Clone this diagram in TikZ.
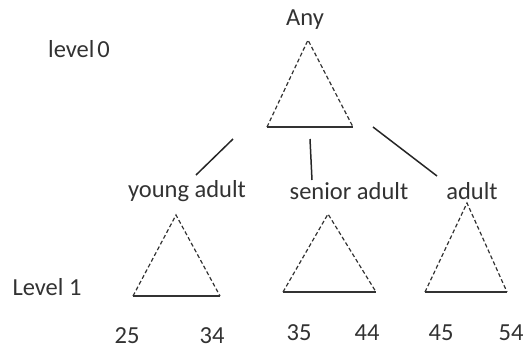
\documentclass[tikz,border=0pt]{standalone}
\usepackage{fontspec}
\setmainfont{Carlito}
\definecolor{ink}{RGB}{50, 50, 50}
\tikzstyle{lbl}=[inner sep=0pt,text=ink,font=\fontsize{24.5}{28}\selectfont]
\tikzstyle{trside}=[draw=ink,line width=1.2pt,dash pattern=on 4pt off 2.5pt]
\tikzstyle{trbase}=[draw=ink,line width=1.6pt]
\tikzstyle{conn}=[draw=black!85,line width=1.5pt]

\begin{document}
\begin{tikzpicture}[x=1pt,y=-1pt]
    \useasboundingbox (0,0) rectangle (524,349);
    % labels
    \node [style=lbl] (any) at (305, 20) {Any};
    \node [style=lbl] (lv0) at (79, 49) {level\hspace{0.12em}0};
    \node [style=lbl] (lv1) at (47, 287) {Level 1};
    \node [style=lbl] (ya) at (187, 191) {young adult};
    \node [style=lbl] (sa) at (349, 191) {senior adult};
    \node [style=lbl] (ad) at (472, 191) {adult};
    \node [style=lbl] (n25) at (127, 336) {25};
    \node [style=lbl] (n34) at (212, 336) {34};
    \node [style=lbl] (n35) at (299, 333) {35};
    \node [style=lbl] (n44) at (367, 333) {44};
    \node [style=lbl] (n45) at (441, 333) {45};
    \node [style=lbl] (n54) at (511, 333) {54};
    % triangles
    \coordinate (t0) at (308, 40);
    \coordinate (t0l) at (267, 127);
    \coordinate (t0r) at (353, 127);
    \coordinate (t1) at (176, 215);
    \coordinate (t1l) at (133, 296);
    \coordinate (t1r) at (220, 296);
    \coordinate (t2) at (328, 214);
    \coordinate (t2l) at (283, 292);
    \coordinate (t2r) at (376, 292);
    \coordinate (t3) at (467, 203);
    \coordinate (t3l) at (425, 292);
    \coordinate (t3r) at (507, 292);
    \draw [style=trside] (t0l) -- (t0) -- (t0r);
    \draw [style=trbase] (t0l) -- (t0r);
    \draw [style=trside] (t1l) -- (t1) -- (t1r);
    \draw [style=trbase] (t1l) -- (t1r);
    \draw [style=trside] (t2l) -- (t2) -- (t2r);
    \draw [style=trbase] (t2l) -- (t2r);
    \draw [style=trside] (t3l) -- (t3) -- (t3r);
    \draw [style=trbase] (t3l) -- (t3r);
    % links
    \coordinate (c1a) at (233, 139);
    \coordinate (c1b) at (196, 175);
    \coordinate (c2a) at (310, 139);
    \coordinate (c2b) at (312, 180);
    \coordinate (c3a) at (373, 127);
    \coordinate (c3b) at (437, 176);
    \draw [style=conn] (c1a) to (c1b);
    \draw [style=conn] (c2a) to (c2b);
    \draw [style=conn] (c3a) to (c3b);
\end{tikzpicture}
\end{document}
